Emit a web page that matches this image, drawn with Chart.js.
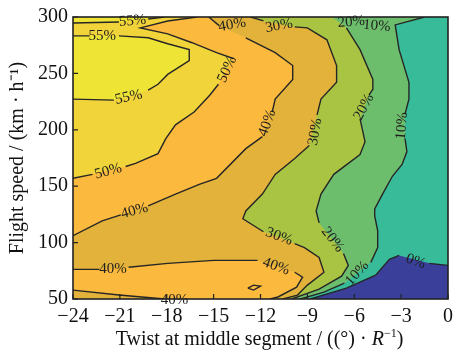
<!DOCTYPE html>
<html>
<head>
<meta charset="utf-8">
<script src="https://cdn.jsdelivr.net/npm/chart.js@4.4.0/dist/chart.umd.min.js"></script>
<style>
  html, body { margin: 0; padding: 0; background: #fff; }
  canvas { display: block; }
</style>
</head>
<body>
<canvas id="contourChart" width="459" height="353"></canvas>
<script>
// axes
const xTicks = [-24, -21, -18, -15, -12, -9, -6, -3, 0];
const yTicks = [50, 100, 150, 200, 250, 300];
const xTitleParts = ['Twist at middle segment / ((°) · ', 'R', '\u22121', ')'];
const yTitle = 'Flight speed / (km · h\u207B\u00B9)';

// contour lines as [twist, speed]; null = gap where the label sits
const line55Top = [[-24, 294.7], [-21.06, 295.6], null, [-19.19, 298.2], [-18.13, 300]];
const line55 = [[-24, 283.3], [-22.94, 283.3], null, [-21.06, 283.3], [-19.19, 281.6], [-17.94, 276.3],
  [-16.56, 271.1], [-16.56, 261.4], [-17.94, 249.1], [-18.56, 240.4], [-19.19, 235.1], null,
  [-21.38, 226.3], [-24, 227.2]];
const line50 = [[-16.06, 300], [-17.94, 296.5], [-19.69, 290.4], [-17.94, 285.1], [-16.38, 277.2],
  [-14.81, 268.4], [-13.75, 263.2], null, [-14.69, 240.4], [-15.25, 230.7], [-16.25, 215.8],
  [-17.44, 204.4], [-18.06, 192.1], [-18.56, 178.9], [-20, 170.2], [-20.63, 167.5], null,
  [-22.75, 160.5], [-24, 157]];
const line40 = [[-15.31, 300], [-14.63, 292.1], null, [-12.94, 281.6], [-11.06, 268.4], [-9.94, 257],
  [-9.94, 244.7], [-11.06, 227.2], [-11.25, 215.8], null, [-11.88, 193.9], [-12.94, 183.3],
  [-14.81, 157], [-15.88, 151.8], [-17.44, 143], [-19.19, 132.5], null, [-20.94, 124.6],
  [-22.13, 119.3], [-24, 106.1]];
const line40Pocket = [[-24, 76.3], [-22.31, 76.3], null, [-20.44, 78.1], [-17.94, 81.6], [-15, 84.2],
  [-12.19, 84.2], null, [-9.81, 73.7], [-9.31, 69.3], [-9.69, 60.5], [-10.88, 51.8], [-11.38, 50]];
const line40Bottom = [[-24, 57.9], [-21.06, 53.5], [-18.13, 50]];
const island40 = [[-12.81, 59.6], [-12.44, 62.3], [-12, 61.4], [-12.44, 57.9], [-12.81, 59.6]];
const line30 = [[-12.63, 300], [-11.81, 296.5], null, [-9.81, 291.2], [-9, 290.4], [-7.75, 279.8],
  [-7.13, 257], [-7.13, 242.1], [-8.13, 227.2], [-8.38, 213.2], null, [-8.88, 186], [-9.81, 174.6],
  [-11.06, 160.5], [-11.88, 143], [-12.94, 128.1], [-13.13, 121.1], [-11.81, 109.6], null,
  [-9.81, 99.1], [-9.19, 95.6], [-8.25, 86.8], [-7.94, 73.7], [-9, 62.3], [-9.63, 53.5], [-10.56, 50]];
const line20 = [[-7.44, 300], null, [-6.5, 290.4], [-5.63, 271.1], [-4.81, 244.7], [-4.81, 236],
  [-5.06, 230.7], null, [-5.63, 209.6], [-5.31, 189.5], [-5.63, 178.1], [-7.31, 160.5], [-8.13, 143],
  [-8.44, 128.1], [-8.25, 117.5], null, [-6.69, 90.4], [-6.38, 79.8], [-6.81, 70.2], [-8.25, 58.8],
  [-10, 50]];
const line10 = [[-1.5, 300], [-3.38, 293], [-3.13, 271.1], [-2.5, 242.1], [-2.5, 227.2], [-2.75, 214], null,
  [-2.75, 192.1], [-2.63, 180.7], [-2.94, 169.3], [-3.56, 158.8], [-4.19, 143], [-4.69, 129.8],
  [-4.69, 123.7], [-4.5, 110.5], [-4.5, 95.6], [-4.94, 82.5], null, [-6.63, 64], [-7.94, 56.1], [-9.44, 50]];
const line0 = [[-8.81, 50], [-6.5, 59.6], [-4.63, 71.1], [-3.75, 85.1], [-3.13, 88.6], null, [-1.19, 81.6], [0, 79.8]];

// contour labels: text, twist, speed, angle (deg)
const contourLabels = [
  ['55%', -20.19, 296.5, -5], ['55%', -22.13, 283.3, 0], ['55%', -20.44, 228.9, -12],
  ['50%', -14.13, 253.5, -65], ['50%', -21.75, 163.2, -15],
  ['40%', -13.81, 293, -10], ['40%', -11.56, 206.1, -70], ['40%', -20.06, 128.1, -15],
  ['40%', -21.44, 76.3, 0], ['40%', -11, 78.9, 20], ['40%', -17.5, 49.3, 0],
  ['30%', -10.81, 292.1, -10], ['30%', -8.5, 198.2, -80], ['30%', -10.81, 105.3, 20],
  ['20%', -6.19, 295.6, -5], ['20%', -5.38, 220.2, -62], ['20%', -7.38, 102.6, 52],
  ['10%', -4.56, 292.1, 5], ['10%', -2.94, 203.5, -85], ['10%', -5.81, 72.8, -48],
  ['0%', -2.06, 83.3, 20]
];

const levelColors = {
  over55: '#ede436', from50: '#f1d33a', from40: '#fbb93d', from30: '#e2b23a',
  from20: '#a9c443', from10: '#6dbe6c', from0: '#38bb98', below0: '#3a3f9a'
};

const serif = '"Liberation Serif", "Times New Roman", serif';
Chart.defaults.font.family = serif;
const xMin = xTicks[0], xMax = xTicks[xTicks.length - 1];
const yMin = yTicks[0], yMax = yTicks[yTicks.length - 1];

function toPoints(arr) {
  return arr.map(p => p ? { x: p[0], y: p[1] } : { x: null, y: null });
}
function polygon(arr, extra) {
  return arr.filter(p => p).concat(extra || []).map(p => ({ x: p[0], y: p[1] }));
}

function fillSet(data, color, order) {
  return {
    data: data, fill: 'shape', backgroundColor: color, borderColor: 'transparent',
    borderWidth: 0, pointRadius: 0, tension: 0, order: order
  };
}
function lineSet(arr) {
  return {
    data: toPoints(arr), fill: false, borderColor: '#262626', borderWidth: 1.4,
    pointRadius: 0, tension: 0, order: 1
  };
}

const rightSide = [[xMax, yMin], [xMax, yMax]];
const datasets = [
  fillSet(polygon(line50, [[xMin, yMin]].concat(rightSide)), levelColors.from40, 30),
  fillSet(polygon(line40, [[xMin, yMin]].concat(rightSide)), levelColors.from30, 29),
  fillSet(polygon(line40Pocket, line40Bottom.slice().reverse()), levelColors.from40, 28),
  fillSet(polygon(line30, rightSide), levelColors.from20, 27),
  fillSet(polygon(line20, rightSide), levelColors.from10, 26),
  fillSet(polygon(line10, rightSide), levelColors.from0, 25),
  fillSet(polygon(line0, [[xMax, yMin]]), levelColors.below0, 24),
  fillSet(polygon(line55Top, [[xMin, yMax]]), levelColors.over55, 23),
  fillSet(polygon(line55), levelColors.over55, 22)
];
[line55Top, line55, line50, line40, line40Pocket, line40Bottom, island40, line30, line20, line10, line0]
  .forEach(l => datasets.push(lineSet(l)));

// base colour of the plot area (50-55 % band)
const plotBackground = {
  id: 'plotBackground',
  beforeDatasetsDraw(chart) {
    const { ctx, chartArea: a } = chart;
    ctx.save();
    ctx.fillStyle = levelColors.from50;
    ctx.fillRect(a.left, a.top, a.right - a.left, a.bottom - a.top);
    ctx.restore();
  }
};

// contour labels, inward ticks and the frame
const frameAndLabels = {
  id: 'frameAndLabels',
  afterDatasetsDraw(chart) {
    const { ctx, chartArea: a, scales: { x, y } } = chart;
    ctx.save();
    ctx.font = '15px ' + serif;
    ctx.fillStyle = '#1e1e1e';
    ctx.textAlign = 'center';
    ctx.textBaseline = 'middle';
    contourLabels.forEach(([t, lx, ly, rot]) => {
      ctx.save();
      ctx.translate(x.getPixelForValue(lx), y.getPixelForValue(ly));
      ctx.rotate(rot * Math.PI / 180);
      ctx.fillText(t, 0, 0);
      ctx.restore();
    });
    ctx.strokeStyle = '#222';
    ctx.lineWidth = 1.2;
    ctx.beginPath();
    xTicks.forEach(v => {
      const px = x.getPixelForValue(v);
      ctx.moveTo(px, a.bottom);
      ctx.lineTo(px, a.bottom - 5);
    });
    yTicks.forEach(v => {
      const py = y.getPixelForValue(v);
      ctx.moveTo(a.left, py);
      ctx.lineTo(a.left + 5, py);
    });
    ctx.stroke();
    ctx.lineWidth = 1.6;
    ctx.strokeRect(a.left, a.top, a.right - a.left, a.bottom - a.top);
    ctx.restore();
  }
};

// x title with italic R and superscript
const xTitleDraw = {
  id: 'xTitleDraw',
  afterDraw(chart) {
    const { ctx, chartArea: a } = chart;
    const fonts = ['20px ' + serif, 'italic 20px ' + serif, '12px ' + serif, '20px ' + serif];
    const rise = [0, 0, -8, 0];
    ctx.save();
    ctx.fillStyle = '#111';
    ctx.textBaseline = 'alphabetic';
    ctx.textAlign = 'left';
    let total = 0;
    const widths = xTitleParts.map((t, i) => { ctx.font = fonts[i]; const w = ctx.measureText(t).width; total += w; return w; });
    let cx = (a.left + a.right) / 2 - total / 2 - 1;
    xTitleParts.forEach((t, i) => {
      ctx.font = fonts[i];
      ctx.fillText(t, cx, 345 + rise[i]);
      cx += widths[i];
    });
    ctx.restore();
  }
};

const ctx = document.getElementById('contourChart').getContext('2d');
new Chart(ctx, {
  type: 'line',
  data: { datasets: datasets },
  options: {
    responsive: false,
    animation: false,
    devicePixelRatio: 1,
    layout: { padding: { top: 14, right: 2, left: 0, bottom: 0 } },
    plugins: { legend: { display: false }, tooltip: { enabled: false } },
    elements: { line: { tension: 0 } },
    scales: {
      x: {
        type: 'linear', min: xMin, max: xMax,
        grid: { display: false, drawTicks: false },
        border: { display: false },
        ticks: {
          stepSize: 3, padding: 6, color: '#111', font: { family: serif, size: 20 },
          callback: v => v < 0 ? '\u2212' + Math.abs(v) : String(v)
        },
        afterFit: s => { s.height = 54; }
      },
      y: {
        type: 'linear', min: yMin, max: yMax,
        grid: { display: false, drawTicks: false },
        border: { display: false },
        ticks: { stepSize: 50, padding: 5, color: '#111', font: { family: serif, size: 20 } },
        title: { display: true, text: yTitle, color: '#111', font: { family: serif, size: 20 }, padding: { top: 6, bottom: 0 } },
        afterFit: s => { s.width = 73; }
      }
    }
  },
  plugins: [plotBackground, frameAndLabels, xTitleDraw]
});
</script>
</body>
</html>
